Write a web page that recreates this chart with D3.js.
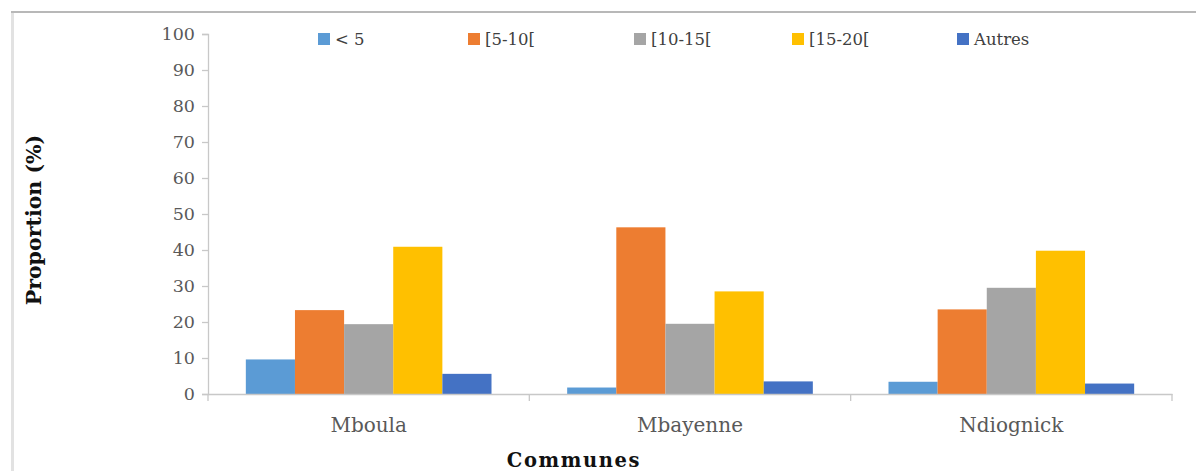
<!DOCTYPE html>
<html>
<head>
<meta charset="utf-8">
<script src="https://cdn.jsdelivr.net/npm/d3@7"></script>
<style>
  html, body { margin: 0; padding: 0; background: #ffffff; }
  svg { display: block; }
</style>
</head>
<body>
<svg id="chart" width="1196" height="471"></svg>
<script>
// ---- data ----
const communes = ["Mboula", "Mbayenne", "Ndiognick"];
const seriesNames = ["< 5", "[5-10[", "[10-15[", "[15-20[", "Autres"];
const seriesColors = ["#5B9BD5", "#ED7D31", "#A5A5A5", "#FFC000", "#4472C4"];
const lt5      = [9.6, 1.8, 3.4];
const s5to10   = [23.3, 46.3, 23.5];
const s10to15  = [19.4, 19.5, 29.5];
const s15to20  = [40.9, 28.5, 39.8];
const autres   = [5.6, 3.5, 2.9];
const yTicks   = [0, 10, 20, 30, 40, 50, 60, 70, 80, 90, 100];

const seriesValues = [lt5, s5to10, s10to15, s15to20, autres];

(function () {
  // ---- layout ----
  const svg = d3.select("#chart");
  const mLeft = 208, mRight = 1172, mTop = 34, mBottom = 394;
  const serif = "'DejaVu Serif', serif";
  const legendSlots = [318, 468, 634, 792, 957];

  // frame
  svg.append("rect").attr("x", 11).attr("y", 12).attr("width", 3).attr("height", 471)
    .attr("fill", "#e2e2e2");
  svg.append("line").attr("x1", 11).attr("x2", 1196).attr("y1", 12).attr("y2", 12)
    .attr("stroke", "#b8b8b8").attr("stroke-width", 2);

  const x0 = d3.scaleBand().domain(communes).range([mLeft, mRight]).paddingInner(0).paddingOuter(0);
  const x1 = d3.scaleBand().domain(seriesNames).range([0, x0.bandwidth()])
    .paddingInner(0).paddingOuter(0.77);
  const y = d3.scaleLinear().domain([0, 100]).range([mBottom, mTop]);

  // bars
  const g = svg.append("g");
  communes.forEach((c, ci) => {
    seriesNames.forEach((s, si) => {
      const v = seriesValues[si][ci];
      g.append("rect")
        .attr("x", x0(c) + x1(s))
        .attr("y", y(v))
        .attr("width", x1.bandwidth())
        .attr("height", y(0) - y(v))
        .attr("fill", seriesColors[si]);
    });
  });

  // y axis
  const yAxis = svg.append("g").attr("transform", `translate(${mLeft},0)`)
    .call(d3.axisLeft(y).tickValues(yTicks).tickSize(6).tickPadding(7));
  yAxis.select(".domain").attr("stroke", "#c8c8c8").attr("stroke-width", 1.3);
  yAxis.selectAll(".tick line").attr("stroke", "#c8c8c8").attr("stroke-width", 1.3);
  yAxis.selectAll(".tick text").attr("font-family", serif).attr("font-size", 17.5)
    .attr("fill", "#595959");

  // x axis
  const xAxis = svg.append("g").attr("transform", `translate(0,${mBottom})`)
    .call(d3.axisBottom(x0).tickSize(0).tickPadding(24));
  xAxis.select(".domain").attr("stroke", "#c8c8c8").attr("stroke-width", 1.3);
  xAxis.selectAll(".tick text").attr("font-family", serif).attr("font-size", 20)
    .attr("fill", "#595959");
  // category separator ticks
  const sepPositions = communes.map(c => x0(c)).concat([x0(communes[communes.length - 1]) + x0.bandwidth()]);
  svg.append("g").selectAll("line").data(sepPositions).join("line")
    .attr("x1", d => d).attr("x2", d => d)
    .attr("y1", mBottom).attr("y2", mBottom + 7)
    .attr("stroke", "#c8c8c8").attr("stroke-width", 1.3);

  // axis titles
  svg.append("text")
    .attr("x", 574).attr("y", 467)
    .attr("text-anchor", "middle")
    .attr("font-family", serif).attr("font-weight", "bold").attr("font-size", 19.5)
    .attr("letter-spacing", 1.6)
    .attr("fill", "#111")
    .text("Communes");

  svg.append("text")
    .attr("transform", `translate(41,220) rotate(-90)`)
    .attr("text-anchor", "middle")
    .attr("font-family", serif).attr("font-weight", "bold").attr("font-size", 20.5)
    .attr("fill", "#111")
    .text("Proportion (%)");

  // legend
  const legend = svg.append("g");
  seriesNames.forEach((s, i) => {
    const lx = legendSlots[i];
    legend.append("rect").attr("x", lx).attr("y", 33).attr("width", 12).attr("height", 12)
      .attr("fill", seriesColors[i]);
    legend.append("text").attr("x", lx + 17).attr("y", 45)
      .attr("font-family", serif).attr("font-size", 16.5).attr("fill", "#404040")
      .text(s);
  });
})();
</script>
</body>
</html>
